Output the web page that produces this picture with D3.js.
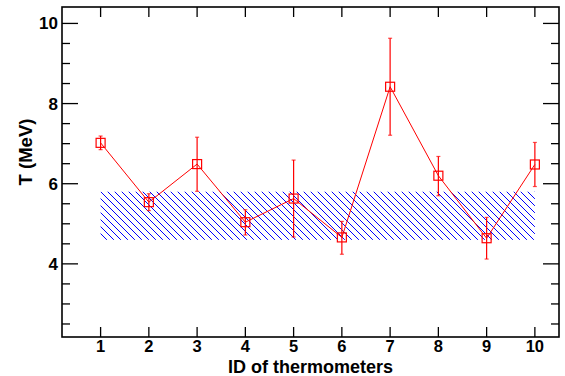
<!DOCTYPE html>
<html><head><meta charset="utf-8">
<script src="https://cdn.jsdelivr.net/npm/d3@7"></script>
<style>body{margin:0;background:#fff}svg{display:block}text{font-family:"Liberation Sans",Arial,sans-serif;font-weight:bold}</style>
</head><body>
<script>
const ids = [1,2,3,4,5,6,7,8,9,10];
const temps = [7.02,5.54,6.49,5.04,5.63,4.66,8.42,6.20,4.64,6.48];
const errHi = [7.19,5.75,7.16,5.35,6.59,5.06,9.63,6.68,5.16,7.03];
const errLo = [6.85,5.33,5.81,4.72,4.67,4.24,7.21,5.70,4.12,5.93];
const bandX = [1,10];
const bandY = [4.6,5.8];
const xTicks = [1,2,3,4,5,6,7,8,9,10];
const yMajor = [4,6,8,10];
const yMinor = [2.5,3,3.5,4.5,5,5.5,6.5,7,7.5,8.5,9,9.5];

const W=565,H=376;
const m={l:62,r:559,t:7,b:337};
const svg=d3.select("body").append("svg").attr("width",W).attr("height",H);
const x=d3.scaleLinear().domain([0.2,10.5]).range([m.l,m.r]);
const y=d3.scaleLinear().domain([2.175,10.41]).range([m.b,m.t]);

const defs=svg.append("defs");
const pat=defs.append("pattern").attr("id","hatch").attr("patternUnits","userSpaceOnUse")
  .attr("width",7).attr("height",7);
pat.append("path").attr("d","M0,0L7,7M-1,6L1,8M6,-1L8,1")
  .attr("stroke","#0000ff").attr("stroke-width",1).attr("shape-rendering","crispEdges");

svg.append("rect").attr("x",x(bandX[0])).attr("y",y(bandY[1]))
  .attr("width",x(bandX[1])-x(bandX[0])).attr("height",y(bandY[0])-y(bandY[1]))
  .attr("fill","url(#hatch)");

const data=ids.map((d,i)=>({id:d,t:temps[i],hi:errHi[i],lo:errLo[i]}));
const red="#ff0000";
svg.append("path").datum(data).attr("fill","none").attr("stroke",red).attr("stroke-width",1)
  .attr("d",d3.line().x(d=>x(d.id)).y(d=>y(d.t)));
const eb=svg.append("g").attr("stroke",red).attr("stroke-width",1.2);
data.forEach(d=>{
  eb.append("line").attr("x1",x(d.id)).attr("x2",x(d.id)).attr("y1",y(d.hi)).attr("y2",y(d.lo));
  eb.append("line").attr("x1",x(d.id)-2).attr("x2",x(d.id)+2).attr("y1",y(d.hi)).attr("y2",y(d.hi)).attr("stroke-opacity",0.7);
  eb.append("line").attr("x1",x(d.id)-2).attr("x2",x(d.id)+2).attr("y1",y(d.lo)).attr("y2",y(d.lo)).attr("stroke-opacity",0.7);
});
svg.append("g").selectAll("rect").data(data).join("rect")
  .attr("x",d=>x(d.id)-4.5).attr("y",d=>y(d.t)-4.5).attr("width",9).attr("height",9)
  .attr("fill","none").attr("stroke",red).attr("stroke-width",1.2);

// frame
svg.append("rect").attr("x",m.l).attr("y",m.t).attr("width",m.r-m.l).attr("height",m.b-m.t)
  .attr("fill","none").attr("stroke","#000").attr("stroke-width",1.6);

// axes ticks
const ax=svg.append("g").attr("stroke","#000").attr("stroke-width",1.3);
xTicks.forEach(v=>{
  ax.append("line").attr("x1",x(v)).attr("x2",x(v)).attr("y1",m.b).attr("y2",m.b-10);
  ax.append("line").attr("x1",x(v)).attr("x2",x(v)).attr("y1",m.t).attr("y2",m.t+10);
});
yMajor.forEach(v=>{
  ax.append("line").attr("x1",m.l).attr("x2",m.l+16).attr("y1",y(v)).attr("y2",y(v));
  ax.append("line").attr("x1",m.r).attr("x2",m.r-16).attr("y1",y(v)).attr("y2",y(v));
});
yMinor.forEach(v=>{
  ax.append("line").attr("x1",m.l).attr("x2",m.l+8).attr("y1",y(v)).attr("y2",y(v));
  ax.append("line").attr("x1",m.r).attr("x2",m.r-8).attr("y1",y(v)).attr("y2",y(v));
});

svg.append("g").selectAll("text").data(xTicks).join("text")
  .attr("x",d=>x(d)).attr("y",352).attr("text-anchor","middle").attr("font-size",16.5).text(d=>d);
svg.append("g").selectAll("text").data(yMajor).join("text")
  .attr("x",58).attr("y",d=>y(d)+6).attr("text-anchor","end").attr("font-size",17).text(d=>d);

svg.append("text").attr("x",(m.l+m.r)/2).attr("y",373).attr("text-anchor","middle")
  .attr("font-size",18).text("ID of thermometers");
svg.append("text").attr("transform","translate(32,152) rotate(-90)").attr("text-anchor","middle")
  .attr("font-size",18.5).text("T (MeV)");
</script>
</body></html>
